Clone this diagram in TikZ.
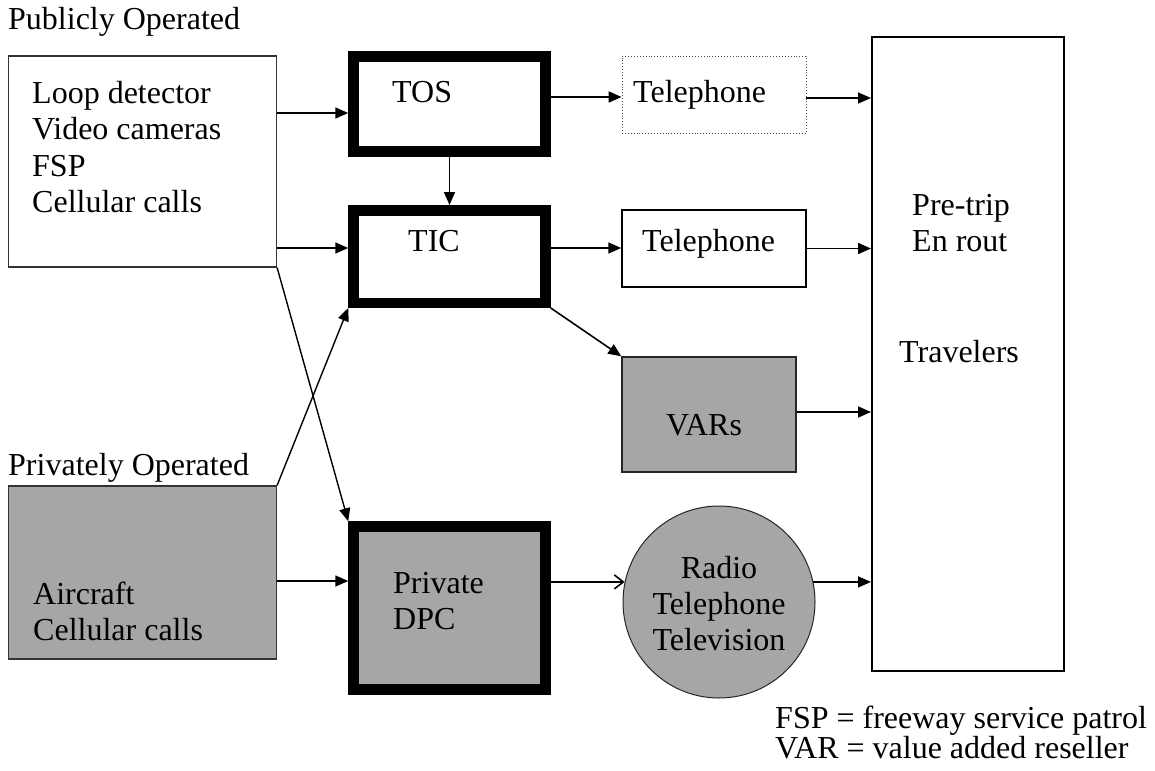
\documentclass[tikz,border=0pt]{standalone}
\usepackage{fontspec}
\setmainfont{Liberation Serif}
\usetikzlibrary{arrows.meta,calc}
\definecolor{boxgray}{HTML}{A6A6A6}
\tikzset{
  txt/.style={anchor=base west, inner sep=0pt, font=\fontsize{32}{36}\selectfont},
  thinbox/.style={draw=black!80, line width=1.2pt, inner sep=0pt},
  thickbox/.style={draw=black, line width=10.5pt, inner sep=0pt},
  arr/.style={line width=1.6pt, -{Triangle[length=13pt,width=11pt]}},
  openarr/.style={line width=1.6pt, -{Straight Barb[length=9pt,width=14pt,line width=1.6pt]}},
}
\begin{document}
\begin{tikzpicture}[x=1pt,y=-1pt]
\useasboundingbox (0,0) rectangle (1155,770);
\fill[white] (0,0) rectangle (1155,770);

% boxes
\node[thinbox, minimum width=268pt, minimum height=211pt] (pub) at (142.5,161.5) {};
\node[thinbox, fill=boxgray, minimum width=268pt, minimum height=173pt] (priv) at (142.5,572.5) {};
\node[thickbox, minimum width=192pt, minimum height=95pt] (tos) at (449.5,104) {};
\node[thickbox, minimum width=192pt, minimum height=92.5pt] (tic) at (449.5,256.5) {};
\node[thickbox, fill=boxgray, minimum width=192pt, minimum height=163pt] (dpc) at (449.5,608) {};
\node[draw=black!70, dotted, line width=0.9pt, inner sep=0pt, minimum width=184pt, minimum height=77pt] (tel1) at (714,94.5) {};
\node[draw=black, line width=1.5pt, inner sep=0pt, minimum width=184pt, minimum height=77pt] (tel2) at (714,248.5) {};
\node[draw=black!85, fill=boxgray, line width=1.5pt, inner sep=0pt, minimum width=174pt, minimum height=115pt] (vars) at (709,414.5) {};
\node[circle, draw=black!85, fill=boxgray, line width=1pt, inner sep=0pt, minimum size=192pt] (radio) at (719,602) {};
\node[draw=black, line width=2pt, inner sep=0pt, minimum width=192pt, minimum height=634pt] (trav) at (968,354) {};

% texts
\node[txt] (lpub) at (8,30) {Publicly Operated};
\node[txt] (lpriv) at (8,475) {Privately Operated};
\node[txt] (t1) at (32,104) {Loop detector};
\node[txt] (t2) at (32,140) {Video cameras};
\node[txt] (t3) at (32,176) {FSP};
\node[txt] (t4) at (32,212) {Cellular calls};
\node[txt] (t5) at (33,604) {Aircraft};
\node[txt] (t6) at (33,640) {Cellular calls};
\node[txt] (t7) at (392,103) {TOS};
\node[txt] (t8) at (408,251) {TIC};
\node[txt] (t9) at (393,593) {Private};
\node[txt] (t10) at (393,629) {DPC};
\node[txt] (t11) at (633,103) {Telephone};
\node[txt] (t12) at (642,251) {Telephone};
\node[txt, anchor=base] (t13) at (704,435) {VARs};
\node[txt, anchor=base] (t14) at (719,578) {Radio};
\node[txt, anchor=base] (t15) at (719,614) {Telephone};
\node[txt, anchor=base] (t16) at (719,650) {Television};
\node[txt] (t17) at (912,215) {Pre-trip};
\node[txt] (t18) at (912,251) {En rout};
\node[txt] (t19) at (899,362) {Travelers};
\node[txt] (t20) at (775,728) {FSP = freeway service patrol};
\node[txt] (t21) at (775,758) {VAR = value added reseller};

% connectors
\coordinate (c1) at ([yshift=-9pt]tos.west);
\draw[arr] (c1 -| pub.east) -- (c1);
\coordinate (c2) at ([yshift=8.5pt]tic.west);
\draw[arr] (c2 -| pub.east) -- (c2);
\draw[arr] (tos.south) -- (tic.north);
\coordinate (c3) at ([yshift=7pt]tos.east);
\draw[arr] (c3) -- (c3 -| tel1.west);
\coordinate (c4) at ([yshift=8.5pt]tic.east);
\draw[arr] (c4) -- (c4 -| tel2.west);
\draw[arr] (tic.south east) -- (vars.north west);
\coordinate (c5) at ([yshift=-3.5pt]tel1.east);
\draw[arr] (c5) -- (c5 -| trav.west);
\draw[arr] (tel2.east) -- (tel2.east -| trav.west);
\coordinate (c6) at ([yshift=2.5pt]vars.east);
\draw[arr] (c6) -- (c6 -| trav.west);
\draw[arr] (radio.12) -- (radio.12 -| trav.west);
\coordinate (c7) at (radio.168);
\draw[openarr] (c7 -| dpc.east) -- (c7);
\coordinate (c8) at ([yshift=27pt]dpc.west);
\draw[arr] (c8 -| priv.east) -- (c8);
\draw[arr, line width=1.4pt] (pub.south east) -- (dpc.north west);
\draw[arr, line width=1.4pt] (priv.north east) -- (tic.south west);
\end{tikzpicture}
\end{document}
